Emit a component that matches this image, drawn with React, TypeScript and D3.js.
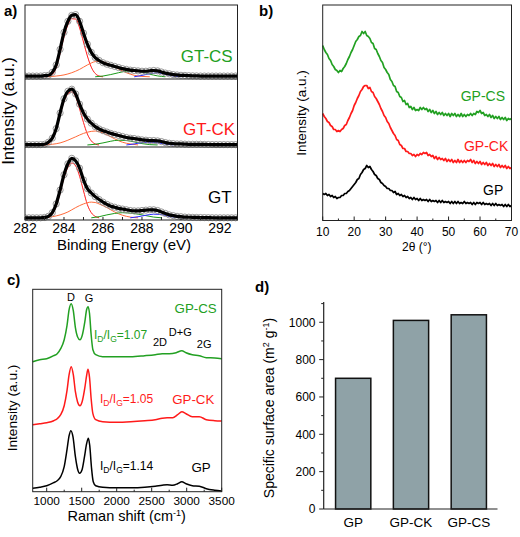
import React from 'react';
import * as d3 from 'd3';

const FONT = '"Liberation Sans", Arial, Helvetica, sans-serif';
const GREEN = '#22a022';
const RED = '#ff1a1a';
const ORANGE = '#ff6a3a';
const BLUE = '#2a2aff';

type P = [number, number];

// ---------------- a) XPS C1s ----------------
const XPS_ENERGY: number[] = d3.range(282, 293.001, 0.2);
const XPS_TICKS = [282, 284, 286, 288, 290, 292];
const XPS_LABELS = ['GT-CS', 'GT-CK', 'GT'];
const XPS_LABEL_COLORS = [GREEN, RED, '#000'];

const XPS_GTCS = [
  0.04, 0.04, 0.04, 0.04, 0.04,
  0.045, 0.05, 0.09, 0.19, 0.40, 0.63, 0.78, 0.86, 0.87, 0.78,
  0.62, 0.47, 0.36, 0.29, 0.25, 0.22, 0.20, 0.185, 0.17, 0.155,
  0.14, 0.13, 0.12, 0.115, 0.11, 0.105, 0.105, 0.11, 0.115, 0.11,
  0.095, 0.08, 0.07, 0.06, 0.055, 0.05, 0.048, 0.045, 0.043, 0.042,
  0.04, 0.04, 0.04, 0.04, 0.04,
  0.04, 0.04, 0.04, 0.04, 0.04, 0.04,
];
const XPS_GTCK = [
  0.035, 0.035, 0.035, 0.035, 0.035,
  0.04, 0.07, 0.13, 0.27, 0.50, 0.71, 0.82, 0.85, 0.78, 0.63,
  0.50, 0.41, 0.35, 0.30, 0.265, 0.24, 0.22, 0.20, 0.185, 0.17,
  0.155, 0.14, 0.13, 0.125, 0.115, 0.105, 0.10, 0.095, 0.095, 0.09,
  0.08, 0.065, 0.055, 0.05, 0.045, 0.045, 0.042, 0.04, 0.04, 0.04,
  0.04, 0.038, 0.037, 0.036, 0.035,
  0.035, 0.035, 0.035, 0.035, 0.035, 0.035,
];
const XPS_GT = [
  0.03, 0.03, 0.03, 0.03, 0.03,
  0.035, 0.05, 0.10, 0.22, 0.41, 0.62, 0.77, 0.845, 0.81, 0.71,
  0.55, 0.43, 0.37, 0.32, 0.28, 0.245, 0.215, 0.19, 0.175, 0.16,
  0.15, 0.14, 0.13, 0.125, 0.125, 0.13, 0.135, 0.14, 0.14, 0.13,
  0.11, 0.09, 0.07, 0.06, 0.05, 0.045, 0.04, 0.038, 0.036, 0.035,
  0.034, 0.033, 0.032, 0.031, 0.03,
  0.03, 0.03, 0.03, 0.03, 0.03, 0.03,
];

// fitted components per sample: [C=C (red), C-O (orange), C=O (green), O-C=O (blue)]
const GTCS_RED: P[] = [[283.0, .03], [283.2, .035], [283.4, .06], [283.6, .15], [283.8, .35], [284.0, .57], [284.2, .73], [284.4, .815], [284.6, .81], [284.8, .69], [285.0, .50], [285.2, .31], [285.4, .16], [285.6, .075], [285.8, .04], [286.0, .03]];
const GTCS_ORANGE: P[] = [[283.2, .03], [283.6, .04], [284.0, .055], [284.4, .085], [284.8, .13], [285.2, .19], [285.6, .235], [285.8, .24], [286.0, .232], [286.4, .19], [286.8, .135], [287.2, .085], [287.6, .05], [288.0, .035], [288.4, .03]];
const GTCS_GREEN: P[] = [[285.6, .03], [286.0, .04], [286.4, .06], [286.8, .085], [287.2, .105], [287.6, .11], [288.0, .095], [288.4, .065], [288.8, .042], [289.2, .03]];
const GTCS_BLUE: P[] = [[287.6, .03], [288.0, .048], [288.4, .072], [288.8, .082], [289.2, .065], [289.6, .042], [290.0, .03]];

const GTCK_RED: P[] = [[283.0, .03], [283.2, .05], [283.4, .11], [283.6, .25], [283.8, .47], [284.0, .67], [284.2, .78], [284.4, .81], [284.6, .74], [284.8, .56], [285.0, .36], [285.2, .19], [285.4, .09], [285.6, .045], [285.8, .03]];
const GTCK_ORANGE: P[] = [[283.0, .03], [283.4, .04], [283.8, .06], [284.2, .10], [284.6, .15], [285.0, .20], [285.4, .23], [285.6, .235], [285.8, .225], [286.2, .18], [286.6, .12], [287.0, .07], [287.4, .045], [287.8, .03]];
const GTCK_GREEN: P[] = [[285.2, .03], [285.6, .04], [286.0, .06], [286.4, .085], [286.8, .10], [287.2, .095], [287.6, .075], [288.0, .05], [288.4, .035], [288.8, .03]];
const GTCK_BLUE: P[] = [[287.2, .03], [287.6, .045], [288.0, .065], [288.4, .07], [288.8, .06], [289.2, .045], [289.6, .03]];

const GT_RED: P[] = [[282.8, .03], [283.0, .032], [283.2, .04], [283.4, .08], [283.6, .19], [283.8, .37], [284.0, .58], [284.2, .72], [284.4, .78], [284.6, .74], [284.8, .60], [285.0, .40], [285.2, .21], [285.4, .10], [285.6, .05], [285.8, .03]];
const GT_ORANGE: P[] = [[283.0, .03], [283.4, .045], [283.8, .07], [284.2, .11], [284.6, .17], [285.0, .22], [285.4, .245], [285.6, .24], [285.8, .22], [286.2, .17], [286.6, .11], [287.0, .065], [287.4, .04], [287.8, .03]];
const GT_GREEN: P[] = [[285.4, .03], [285.8, .045], [286.2, .07], [286.6, .09], [287.0, .10], [287.4, .095], [287.8, .08], [288.2, .06], [288.6, .04], [289.0, .03]];
const GT_BLUE: P[] = [[287.4, .03], [287.8, .045], [288.2, .065], [288.6, .08], [289.0, .075], [289.4, .05], [289.8, .035], [290.2, .03]];

const XPS_DATA = [XPS_GTCS, XPS_GTCK, XPS_GT];
const XPS_COMPONENTS = [
  [GTCS_RED, GTCS_ORANGE, GTCS_GREEN, GTCS_BLUE],
  [GTCK_RED, GTCK_ORANGE, GTCK_GREEN, GTCK_BLUE],
  [GT_RED, GT_ORANGE, GT_GREEN, GT_BLUE],
];
const XPS_COMPONENT_COLORS = [RED, ORANGE, '#1a9a1a', BLUE];

// ---------------- b) XRD ----------------
const XRD_ANGLE: number[] = d3.range(10, 70.001, 0.5);
const XRD_TICKS = [10, 20, 30, 40, 50, 60, 70];
const XRD_GPCS = [
  175, 171, 168, 166, 162, 160, 156, 154, 151, 150, 148, 150, 149, 152, 154, 157, 161, 164, 168, 171,
  175, 179, 181, 184, 185, 189, 187, 189, 185, 184, 182, 178, 177, 172, 171, 167, 164, 160, 158, 153,
  151, 148, 146, 141, 139, 135, 134, 129, 128, 124, 123, 119, 120, 116, 117, 113, 114, 111, 113, 110,
  111, 110, 113, 111, 113, 111, 112, 109, 111, 108, 110, 107, 109, 106, 108, 106, 108, 105, 107, 105,
  107, 104, 107, 105, 107, 104, 106, 104, 107, 104, 106, 104, 106, 105, 107, 105, 107, 106, 109, 108,
  110, 107, 108, 105, 106, 104, 106, 103, 105, 102, 104, 102, 104, 101, 103, 101, 103, 100, 102, 101,
  102,
];
const XRD_GPCK = [
  107, 104, 102, 99, 98, 95, 94, 91, 91, 89, 90, 89, 91, 92, 95, 96, 100, 103, 107, 110,
  115, 118, 122, 125, 129, 131, 134, 135, 135, 132, 133, 129, 128, 124, 122, 119, 116, 112, 109, 105,
  103, 99, 97, 93, 90, 87, 85, 81, 80, 76, 75, 72, 72, 69, 69, 67, 67, 65, 66, 64,
  66, 65, 67, 66, 68, 67, 68, 65, 66, 64, 65, 62, 64, 61, 63, 61, 62, 60, 62, 59,
  61, 59, 61, 58, 60, 58, 61, 58, 60, 58, 60, 58, 60, 59, 61, 58, 60, 57, 59, 57,
  59, 56, 58, 56, 58, 55, 57, 55, 57, 54, 56, 54, 56, 53, 55, 53, 55, 52, 54, 52,
  53,
];
const XRD_GP = [
  27, 26, 27, 25, 26, 24, 25, 23, 24, 22, 23, 23, 25, 25, 27, 27, 29, 30, 32, 34,
  36, 38, 41, 42, 46, 48, 51, 52, 55, 53, 54, 51, 49, 46, 45, 42, 41, 38, 37, 35,
  34, 32, 32, 30, 30, 28, 29, 26, 27, 25, 26, 24, 25, 23, 24, 22, 23, 21, 23, 21,
  22, 20, 22, 20, 21, 20, 21, 19, 21, 19, 20, 19, 20, 18, 20, 18, 20, 18, 19, 18,
  19, 17, 19, 17, 19, 17, 19, 17, 18, 17, 19, 17, 18, 17, 18, 16, 18, 16, 18, 17,
  18, 16, 18, 16, 17, 16, 17, 15, 17, 15, 17, 15, 16, 15, 16, 14, 16, 14, 16, 14,
  15,
];
const XRD_SERIES = [XRD_GPCS, XRD_GPCK, XRD_GP];
const XRD_LABELS = ['GP-CS', 'GP-CK', 'GP'];
const SERIES_COLORS = [GREEN, RED, '#000'];

// ---------------- c) Raman ----------------
const RAMAN_TICKS = [1000, 1500, 2000, 2500, 3000, 3500];
const RAMAN_GPCS: P[] = [[800, 130], [900, 132], [1000, 133], [1100, 136], [1150, 138], [1200, 143], [1250, 152], [1290, 166], [1320, 182], [1350, 188], [1380, 181], [1410, 164], [1440, 155], [1475, 152], [1510, 157], [1545, 170], [1570, 182], [1592, 185], [1612, 178], [1635, 157], [1660, 142], [1700, 137], [1800, 135], [2000, 135], [2200, 135], [2400, 136], [2550, 137], [2650, 138], [2750, 138], [2850, 139], [2930, 141], [2990, 139], [3080, 137], [3180, 136], [3280, 134], [3400, 133.7], [3500, 133]];
const RAMAN_GPCK: P[] = [[800, 67], [900, 68], [1000, 69], [1100, 71], [1150, 73], [1200, 77], [1250, 86], [1290, 101], [1320, 117], [1350, 125], [1380, 117], [1410, 100], [1440, 90], [1475, 86], [1510, 91], [1545, 104], [1570, 116], [1590, 122.4], [1612, 114], [1635, 93], [1660, 78], [1700, 72], [1800, 70], [2000, 69.5], [2200, 70], [2400, 71], [2550, 72], [2650, 73.5], [2720, 74], [2800, 74], [2870, 77], [2930, 80], [2990, 78], [3080, 75], [3180, 75], [3280, 72], [3400, 71], [3500, 70.7]];
const RAMAN_GP: P[] = [[800, 3.4], [900, 4.5], [1000, 6], [1100, 9], [1150, 11], [1200, 15], [1250, 25], [1290, 42], [1320, 56], [1345, 61], [1375, 55], [1410, 35], [1440, 23], [1470, 18.4], [1505, 22], [1540, 35], [1570, 48], [1595, 53.4], [1615, 46], [1640, 24], [1665, 10], [1700, 6], [1800, 4.5], [2000, 4], [2200, 4], [2400, 4.5], [2550, 5.5], [2650, 6.5], [2720, 7], [2800, 6.5], [2870, 8], [2930, 10], [2990, 8], [3080, 6], [3180, 5.5], [3280, 3], [3400, 1.5], [3500, 0.7]];
const RAMAN_SERIES = [RAMAN_GPCS, RAMAN_GPCK, RAMAN_GP];
const RAMAN_RATIOS = ['1.07', '1.05', '1.14'];

// ---------------- d) BET ----------------
const BET_CATEGORIES = ['GP', 'GP-CK', 'GP-CS'];
const BET_VALUES = [700, 1010, 1040];
const BET_TICKS = [0, 200, 400, 600, 800, 1000];
const BET_MINOR = [100, 300, 500, 700, 900, 1100];

function PanelA() {
  const x = d3.scaleLinear().domain([282, 292.9]).range([25, 237.5]);
  const bands: [number, number][] = [[5, 79], [79, 147], [147, 220]];
  const labelY = [61.7, 135, 202.7];
  const labelX = [232.7, 235, 231.7];
  return (
    <g>
      <defs>
        <clipPath id="clipA"><rect x={25} y={3} width={212.5} height={219} /></clipPath>
      </defs>
      <g clipPath="url(#clipA)">
        {XPS_DATA.map((vals, k) => {
          const y = d3.scaleLinear().domain([0, 1]).range([bands[k][1], bands[k][0]]);
          const pts: P[] = XPS_ENERGY.map((e, i) => [e, vals[i]]);
          const line = d3.line<P>().x(d => x(d[0])).y(d => y(d[1])).curve(d3.curveMonotoneX);
          return (
            <g key={k}>
              {XPS_COMPONENTS[k].map((c, j) => (
                <path key={j} d={line(c) || ''} fill="none" stroke={XPS_COMPONENT_COLORS[j]} strokeWidth={1} />
              ))}
              {pts.map((p, i) => (
                <circle key={i} cx={x(p[0])} cy={y(p[1])} r={3.1} fill="none" stroke="#8c8c8c" strokeWidth={0.9} />
              ))}
              <path d={line(pts) || ''} fill="none" stroke="#000" strokeWidth={3.2} strokeLinejoin="round" />
            </g>
          );
        })}
      </g>
      <rect x={25} y={5} width={212.5} height={215} fill="none" stroke="#222" strokeWidth={1} />
      <line x1={25} x2={237.5} y1={79} y2={79} stroke="#222" strokeWidth={1} />
      <line x1={25} x2={237.5} y1={147} y2={147} stroke="#222" strokeWidth={1} />
      {d3.range(282, 293, 1).map(t => (
        <line key={t} x1={x(t)} x2={x(t)} y1={220} y2={217} stroke="#222" strokeWidth={1} />
      ))}
      {XPS_TICKS.map(t => (
        <text key={t} x={x(t)} y={233} textAnchor="middle" fontSize={14}>{t}</text>
      ))}
      <text x={124} y={250} textAnchor="middle" fontSize={15}>Binding Energy (eV)</text>
      <text transform="translate(14,111) rotate(-90)" textAnchor="middle" fontSize={17}>Intensity (a.u.)</text>
      {XPS_LABELS.map((l, k) => (
        <text key={l} x={labelX[k]} y={labelY[k]} textAnchor="end" fontSize={17} fill={XPS_LABEL_COLORS[k]}>{l}</text>
      ))}
      <text x={4} y={16} fontSize={15} fontWeight="bold">a)</text>
    </g>
  );
}

function PanelB() {
  const x = d3.scaleLinear().domain([10, 70]).range([322.7, 511.5]);
  const y = d3.scaleLinear().domain([0, 215]).range([220.5, 5.5]);
  const line = d3.line<P>().x(d => x(d[0])).y(d => y(d[1]));
  const labelY = [100.7, 150.7, 195];
  const labelX = [505, 508.3, 503.3];
  return (
    <g>
      {XRD_SERIES.map((s, k) => (
        <path key={k} d={line(XRD_ANGLE.map((a, i) => [a, s[i]] as P)) || ''} fill="none"
          stroke={SERIES_COLORS[k]} strokeWidth={1.7} strokeLinejoin="round" />
      ))}
      <rect x={322.7} y={5} width={188.8} height={215.5} fill="none" stroke="#222" strokeWidth={1} />
      {d3.range(10, 71, 5).map(t => (
        <line key={t} x1={x(t)} x2={x(t)} y1={220.5} y2={t % 10 === 0 ? 216.5 : 218.5} stroke="#222" strokeWidth={1} />
      ))}
      {XRD_TICKS.map(t => (
        <text key={t} x={x(t)} y={236.3} textAnchor="middle" fontSize={12}>{t}</text>
      ))}
      <text x={416.7} y={250.5} textAnchor="middle" fontSize={12}>2θ (°)</text>
      <text transform="translate(306,113) rotate(-90)" textAnchor="middle" fontSize={13.5}>Intensity (a.u.)</text>
      {XRD_LABELS.map((l, k) => (
        <text key={l} x={labelX[k]} y={labelY[k]} textAnchor="end" fontSize={14} fill={SERIES_COLORS[k]}>{l}</text>
      ))}
      <text x={259} y={16} fontSize={15} fontWeight="bold">b)</text>
    </g>
  );
}

function Ratio({ x, y, value, color }: { x: number; y: number; value: string; color: string }) {
  return (
    <text x={x} y={y} fontSize={12} fill={color}>
      I<tspan dy={3} fontSize={8.5}>D</tspan><tspan dy={-3}>/I</tspan><tspan dy={3} fontSize={8.5}>G</tspan><tspan dy={-3}>={value}</tspan>
    </text>
  );
}

function PanelC() {
  const x = d3.scaleLinear().domain([800, 3500]).range([32.7, 221.7]);
  const y = d3.scaleLinear().domain([0, 202.4]).range([491.7, 289.3]);
  const line = d3.line<P>().x(d => x(d[0])).y(d => y(d[1])).curve(d3.curveMonotoneX);
  const labelY = [312.7, 404, 472];
  const labelX = [216.7, 214.3, 210.7];
  const ratioPos: [number, number][] = [[94, 339.3], [100, 402.7], [100, 470]];
  return (
    <g>
      {RAMAN_SERIES.map((s, k) => (
        <path key={k} d={line(s) || ''} fill="none" stroke={SERIES_COLORS[k]} strokeWidth={1.5} />
      ))}
      <rect x={32.7} y={289.3} width={189} height={202.4} fill="none" stroke="#222" strokeWidth={1} />
      {d3.range(1000, 3501, 250).map(t => (
        <line key={t} x1={x(t)} x2={x(t)} y1={491.7} y2={t % 500 === 0 ? 487.7 : 489.7} stroke="#222" strokeWidth={1} />
      ))}
      {RAMAN_TICKS.map(t => (
        <text key={t} x={x(t)} y={505} textAnchor="middle" fontSize={11.8}>{t}</text>
      ))}
      <text x={126.7} y={521} textAnchor="middle" fontSize={14.5}>
        Raman shift (cm<tspan dy={-5} fontSize={9}>-1</tspan><tspan dy={5}>)</tspan>
      </text>
      <text transform="translate(16.5,408) rotate(-90)" textAnchor="middle" fontSize={13.7}>Intensity (a.u.)</text>
      {XRD_LABELS.map((l, k) => (
        <text key={l} x={labelX[k]} y={labelY[k]} textAnchor="end" fontSize={13.3} fill={SERIES_COLORS[k]}>{l}</text>
      ))}
      {RAMAN_RATIOS.map((r, k) => (
        <Ratio key={k} x={ratioPos[k][0]} y={ratioPos[k][1]} value={r} color={SERIES_COLORS[k]} />
      ))}
      <text x={71} y={301} textAnchor="middle" fontSize={11}>D</text>
      <text x={89} y={302} textAnchor="middle" fontSize={11}>G</text>
      <text x={160} y={346} textAnchor="middle" fontSize={11}>2D</text>
      <text x={180.3} y={336} textAnchor="middle" fontSize={11}>D+G</text>
      <text x={204.2} y={348.3} textAnchor="middle" fontSize={11}>2G</text>
      <text x={7} y={285} fontSize={15} fontWeight="bold">c)</text>
    </g>
  );
}

function PanelD() {
  const x = d3.scaleBand().domain(BET_CATEGORIES).range([324, 498]).paddingInner(0.39).paddingOuter(0.2);
  const y = d3.scaleLinear().domain([0, 1100]).range([509, 303.6]);
  const x0 = 323.7;
  return (
    <g>
      {BET_CATEGORIES.map((c, i) => (
        <rect key={c} x={x(c)} y={y(BET_VALUES[i])} width={x.bandwidth()} height={y(0) - y(BET_VALUES[i])}
          fill="#8fa2a7" stroke="#111" strokeWidth={1.5} />
      ))}
      <line x1={x0} x2={x0} y1={y(0)} y2={y(1100) - 1.5} stroke="#222" strokeWidth={1.2} />
      <line x1={x0} x2={497.5} y1={y(0)} y2={y(0)} stroke="#222" strokeWidth={1.2} />
      {BET_TICKS.map(t => (
        <g key={t}>
          <line x1={x0 - 4.5} x2={x0} y1={y(t)} y2={y(t)} stroke="#222" strokeWidth={1} />
          <text x={315.5} y={y(t) + 4.3} textAnchor="end" fontSize={12}>{t}</text>
        </g>
      ))}
      {BET_MINOR.map(t => (
        <line key={t} x1={x0 - 2.5} x2={x0} y1={y(t)} y2={y(t)} stroke="#222" strokeWidth={1} />
      ))}
      {BET_CATEGORIES.map(c => (
        <text key={c} x={(x(c) || 0) + x.bandwidth() / 2} y={527} textAnchor="middle" fontSize={13.5}>{c}</text>
      ))}
      <text transform="translate(274,408) rotate(-90)" textAnchor="middle" fontSize={14}>
        Specific surface area (m<tspan dy={-5} fontSize={9}>2</tspan><tspan dy={5}> g</tspan><tspan dy={-5} fontSize={9}>-1</tspan><tspan dy={5}>)</tspan>
      </text>
      <text x={255} y={292} fontSize={15} fontWeight="bold">d)</text>
    </g>
  );
}

export default function App() {
  return (
    <svg width={520} height={537} viewBox="0 0 520 537"
      style={{ position: 'absolute', left: 0, top: 0, background: '#fff' }}
      fontFamily={FONT}>
      <rect x={0} y={0} width={520} height={537} fill="#fff" />
      <PanelA />
      <PanelB />
      <PanelC />
      <PanelD />
    </svg>
  );
}
